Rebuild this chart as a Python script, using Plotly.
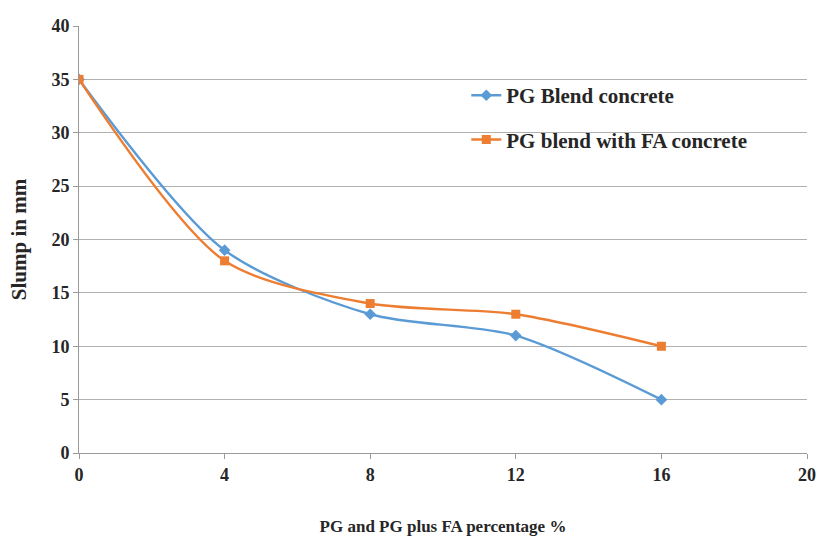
import plotly.graph_objects as go

x_vals = [0, 4, 8, 12, 16]
pg_blend = [35, 19, 13, 11, 5]
pg_fa = [35, 18, 14, 13, 10]
x_ticks = [0, 4, 8, 12, 16, 20]
y_ticks = [0, 5, 10, 15, 20, 25, 30, 35, 40]

FONT = "'Times New Roman', 'Liberation Serif', 'DejaVu Serif', serif"
BLUE = "#5B9BD5"
ORANGE = "#ED7D31"
TXT = "#262626"

fig = go.Figure()
fig.add_trace(go.Scatter(
    x=x_vals, y=pg_blend, name="PG Blend concrete", mode="lines+markers",
    line=dict(color=BLUE, width=2.4, shape="spline", smoothing=0.8),
    marker=dict(symbol="diamond", size=9, color=BLUE), legendgroup="a"))
fig.add_trace(go.Scatter(
    x=x_vals, y=pg_fa, name="PG blend with FA concrete", mode="lines+markers",
    line=dict(color=ORANGE, width=2.4, shape="spline", smoothing=0.8),
    marker=dict(symbol="square", size=9, color=ORANGE), legendgroup="b"))

fig.update_layout(
    width=826, height=538,
    margin=dict(l=79, r=19, t=26, b=85),
    paper_bgcolor="white", plot_bgcolor="white",
    font=dict(family=FONT, size=18, color=TXT, weight="bold"),
    legend=dict(x=0.532, y=0.885, xanchor="left", yanchor="top",
                bgcolor="rgba(0,0,0,0)", tracegroupgap=14,
                font=dict(family=FONT, size=21, color=TXT, weight="bold")),
    xaxis=dict(range=[0, 20], tickvals=x_ticks, showgrid=False,
               showline=True, linecolor="#9a9a9a", linewidth=1,
               ticks="outside", ticklen=5, tickcolor="#9a9a9a",
               zeroline=False, automargin=False,
               tickfont=dict(family=FONT, size=18, color=TXT, weight="bold"),
               title=dict(text="PG and PG plus FA percentage %", standoff=36,
                          font=dict(family=FONT, size=17, color=TXT, weight="bold"))),
    yaxis=dict(range=[0, 40], tickvals=y_ticks, showgrid=True,
               gridcolor="#b0b0b0", gridwidth=1,
               showline=True, linecolor="#9a9a9a", linewidth=1,
               ticks="outside", ticklen=5, tickcolor="#9a9a9a",
               zeroline=False, automargin=False,
               tickfont=dict(family=FONT, size=18, color=TXT, weight="bold"),
               title=dict(text="Slump in mm", standoff=19,
                          font=dict(family=FONT, size=21, color=TXT, weight="bold"))),
)

fig.write_html("out.html")
